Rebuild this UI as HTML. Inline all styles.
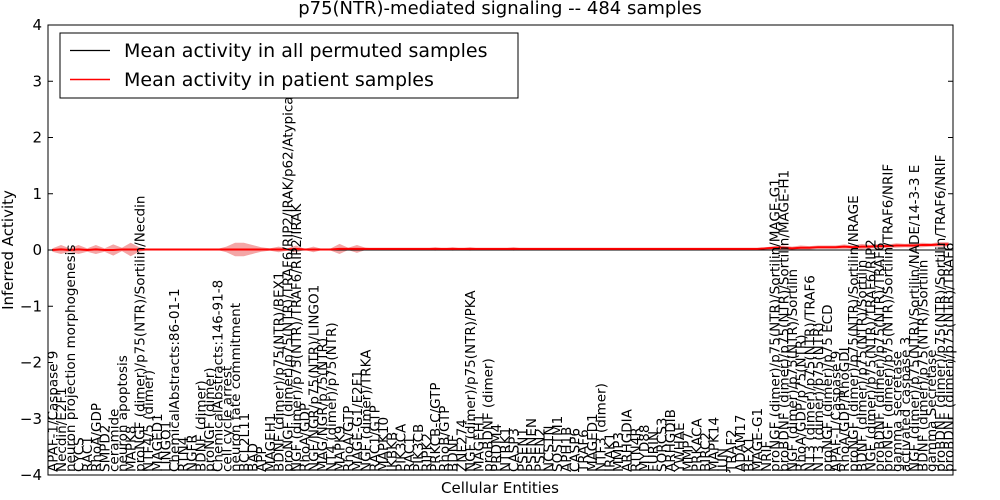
<!DOCTYPE html>
<html><head><meta charset="utf-8"><style>
body{margin:0;background:#fff;}
svg{display:block;font-family:"DejaVu Sans","Liberation Sans",sans-serif;}
</style></head><body>
<svg id="chart" width="1000" height="500">
<rect x="0" y="0" width="1000" height="500" fill="#fff"/>
<text x="500" y="14" text-anchor="middle" font-size="18">p75(NTR)-mediated signaling -- 484 samples</text>
<text transform="translate(13,250) rotate(-90)" text-anchor="middle" font-size="15">Inferred Activity</text>
<text x="500" y="493" text-anchor="middle" font-size="15">Cellular Entities</text>
<g id="plot"></g>
</svg>
<script>
const labels=["APAF-1/Caspase 9","Necdin/E2F1","neuron projection morphogenesis","CYCS","RAC1","RhoA/GDP","SMPD2","ceramide","neuron apoptosis","MAPK8","proNGF (dimer)/p75(NTR)/Sortilin/Necdin","NTF4/5 (dimer)","MAGED1","LINGO1","ChemicalAbstracts:86-01-1","RTN4","NGFR","BDNF (dimer)","proNGF (dimer)","ChemicalAbstracts:146-91-8","cell cycle arrest","neuron fate commitment","BCL2L11","BAD","APP","MAGEH1","BDNF (dimer)/p75(NTR)/BEX1","proNGF (dimer)/p75(NTR)/TRAF6/RIP2/IRAK/p62/Atypical","NGF (dimer)/p75(NTR)/TRAF6/RIP2/IRAK","RhoA/GDP","NGF/NGR/p75(NTR)/LINGO1","MAG/NGR/p75(NTR)","NT4 (dimer)/p75(NTR)","MAPK9","RhoA/GTP","MAGE-G1/E2F1","NGF (dimer)/TRKA","RAC1/GTP","MAPK10","IKBKB","PIK3CA","RAC1","PIK3CB","RIPK2","PRKCB-C/GTP","RhoB/GTP","BDNF","ZNF274","NGF (dimer)/p75(NTR)/PKA","MAGEH1","proBDNF (dimer)","PRDM4","NTRK1","CASP3","PSEN1","PSENEN","PSEN2","NCSTN","SQSTM1","APH1B","CASP6","TRAF6","MAGED1","NTF3 (dimer)","IRAK1","MMP3","ARHGDIA","RTN4R","MYD88","FURIN","SORCS3","ARHGDIB","YWHAE","MMP7","PRKACA","BIRC2","MAPK14","JUN","TRAF2","ADAM17","BEX1","MAGE-G1","NRIF","proNGF (dimer)/p75(NTR)/Sortilin/MAGE-G1","proBDNF (dimer)/p75(NTR)/Sortilin/MAGE-H1","NGF (dimer)/p75(NTR)/Sortilin","RhoA/GDP/p75(NTR)","NT3 (dimer)/p75(NTR)/TRAF6","NT3 (dimer)/p75(NTR)","proNGF (dimer)/p75 ECD","APAF-1/Caspase 9","RhoA/GDP/RhoGDI","proNGF (dimer)/p75(NTR)/Sortilin/NRAGE","BDNF (dimer)/p75(NTR)/Sortilin","NGF (dimer)/p75(NTR)/TRAF6/RIP2","proBDNF (dimer)/p75(NTR)/TRAF6","proNGF (dimer)/p75(NTR)/Sortilin/TRAF6/NRIF","gamma secretase","activated caspase 3","NGF (dimer)/p75(NTR)/Sortilin/NADE/14-3-3 E","BDNF (dimer)/p75(NTR)/Sortilin","gamma Secretase","proBDNF (dimer)/p75(NTR)/Sortilin/TRAF6/NRIF","proBDNF (dimer)/p75(NTR)/TRAF6"];
const patientMean=[0,0.01,0,0.01,0,0.01,0,0,0.01,0.01,0.01,0.01,0.01,0.01,0.01,0.01,0.01,0.01,0.01,0.01,0.01,0.01,0.01,0.01,0.01,0.01,0.01,0.01,0.02,0.01,0.01,0.01,0.01,0.02,0.02,0.02,0.02,0.02,0.02,0.02,0.02,0.02,0.02,0.02,0.02,0.02,0.02,0.02,0.02,0.02,0.02,0.02,0.02,0.02,0.02,0.02,0.02,0.02,0.02,0.02,0.02,0.02,0.02,0.02,0.02,0.02,0.02,0.02,0.02,0.02,0.02,0.02,0.02,0.02,0.02,0.02,0.02,0.02,0.02,0.02,0.02,0.02,0.03,0.04,0.04,0.03,0.04,0.04,0.05,0.05,0.05,0.06,0.05,0.06,0.06,0.07,0.07,0.08,0.08,0.08,0.09,0.09,0.1,0.1];
const bandHalf=[0.03,0.08,0.03,0.08,0.03,0.08,0.03,0.1,0.03,0.12,0.04,0.01,0.01,0.01,0.01,0.01,0.01,0.01,0.01,0.01,0.05,0.12,0.12,0.08,0.04,0.02,0.05,0.02,0.06,0.01,0.05,0.01,0.02,0.09,0.02,0.07,0.02,0.01,0.01,0.01,0.01,0.01,0.01,0.01,0.03,0.01,0.03,0.01,0.03,0.01,0.01,0.01,0.01,0.03,0.01,0.01,0.01,0.01,0.01,0.01,0.01,0.01,0.01,0.01,0.01,0.01,0.01,0.01,0.01,0.01,0.01,0.01,0.01,0.01,0.01,0.01,0.01,0.01,0.01,0.01,0.01,0.01,0.02,0.03,0.04,0.03,0.04,0.03,0.03,0.03,0.03,0.04,0.03,0.05,0.03,0.04,0.03,0.04,0.03,0.04,0.04,0.03,0.04,0.04];
const permutedMean=labels.map(()=>0);
const yTicks=[4,3,2,1,0,-1,-2,-3,-4];

const NS="http://www.w3.org/2000/svg";
const L=48,R=953,T=25,B=475;
const n=labels.length;
function xs(i){return L+(i+0.5)*(R-L)/n;}
function ys(v){return T+(4-v)*(B-T)/8;}
const g=document.getElementById('plot');
function mk(tag,attrs,parent){const e=document.createElementNS(NS,tag);for(const k in attrs)e.setAttribute(k,attrs[k]);(parent||g).appendChild(e);return e;}

let up=patientMean.map((v,i)=>xs(i)+','+ys(v+bandHalf[i]));
let dn=patientMean.map((v,i)=>xs(i)+','+ys(v-bandHalf[i])).reverse();
const band=mk('polygon',{points:up.concat(dn).join(' '),fill:'#f08080','fill-opacity':'0.7',stroke:'none'});


const z=mk('line',{x1:L,x2:R,y1:ys(0),y2:ys(0),stroke:'#000','stroke-dasharray':'1,3','stroke-width':1});


const pl=mk('polyline',{points:permutedMean.map((v,i)=>xs(i)+','+ys(v)).join(' '),fill:'none',stroke:'#000','stroke-width':1});


const rl=mk('polyline',{points:patientMean.map((v,i)=>xs(i)+','+ys(v)).join(' '),fill:'none',stroke:'#ff0000','stroke-width':2});



labels.forEach((t,i)=>{
 const e=mk('text',{transform:`translate(${xs(i)+5},472) rotate(-90)`,'font-size':'13.5'});
 e.textContent=t;
 
 
});
const fr=mk('rect',{x:L,y:T,width:R-L,height:B-T,fill:'none',stroke:'#000','stroke-width':1});


yTicks.forEach(v=>{
 const y=ys(v);
 const t1=mk('line',{x1:L,x2:L+5,y1:y,y2:y,stroke:'#000'});
 
 
 const t2=mk('line',{x1:R-5,x2:R,y1:y,y2:y,stroke:'#000'});
 
 
 const lb=mk('text',{x:L-6,y:y+5,'text-anchor':'end','font-size':'15'});
 lb.textContent=(v<0?'\u2212':'')+Math.abs(v);
 
 
});
const lg=mk('g',{});


mk('rect',{x:60,y:33,width:458,height:65,fill:'#fff',stroke:'#000'},lg);
const e1=mk('line',{x1:70,x2:110,y1:50.5,y2:50.5,stroke:'#000','stroke-width':1.2},lg);


const tx1=mk('text',{x:124,y:57,'font-size':'19'},lg);tx1.textContent='Mean activity in all permuted samples';


const e2=mk('line',{x1:70,x2:110,y1:79.5,y2:79.5,stroke:'#ff0000','stroke-width':1.5},lg);


const tx2=mk('text',{x:124,y:86,'font-size':'19'},lg);tx2.textContent='Mean activity in patient samples';


</script>
</body></html>
